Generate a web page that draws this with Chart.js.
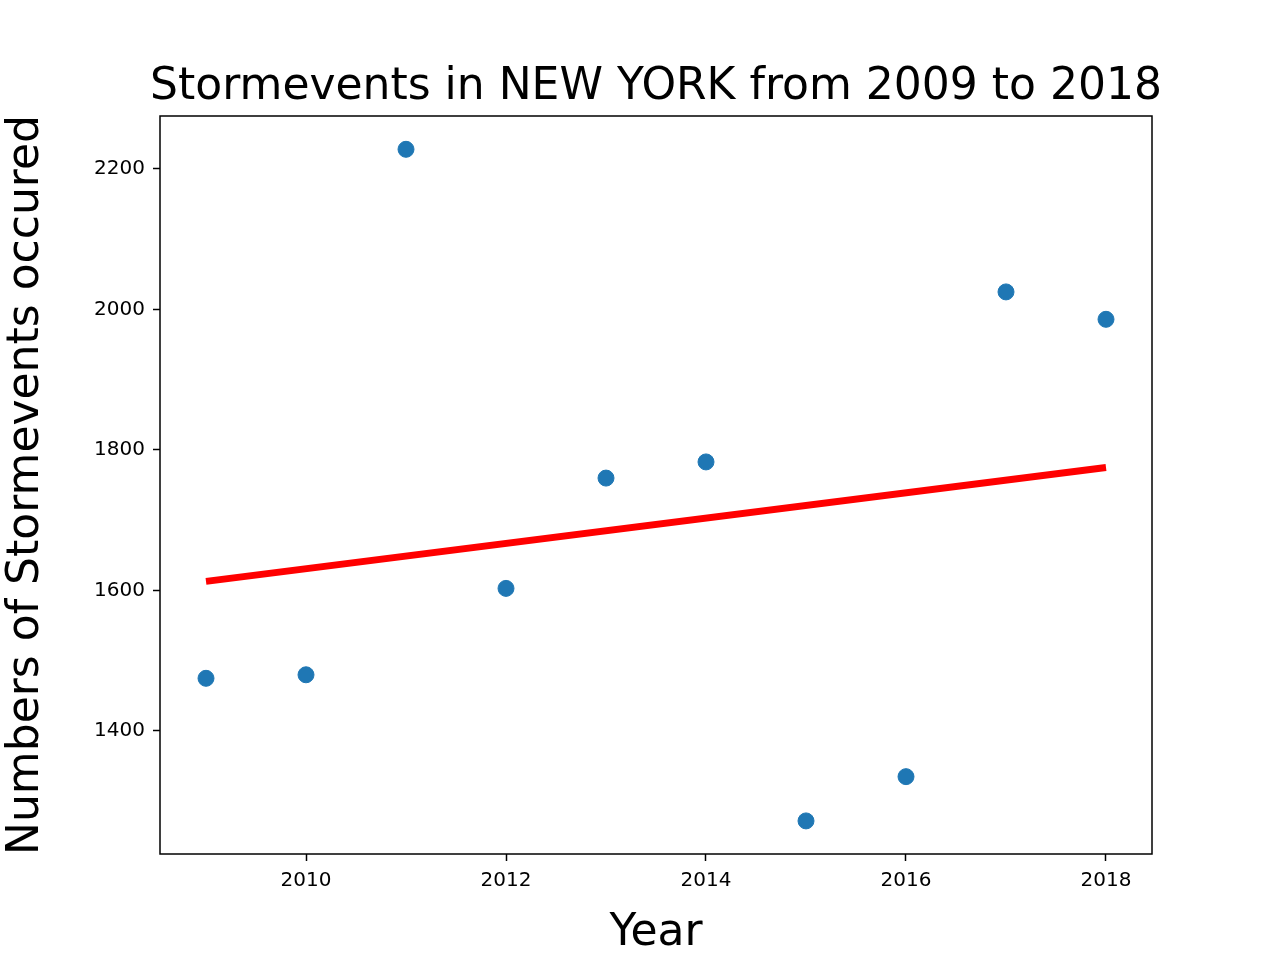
<!DOCTYPE html>
<html>
<head>
<meta charset="utf-8">
<script src="https://cdn.jsdelivr.net/npm/chart.js@4/dist/chart.umd.min.js"></script>
<style>
  body { margin: 0; background: #fff; }
  #wrap { width: 1280px; height: 960px; }
</style>
</head>
<body>
<div id="wrap"><canvas id="stormChart"></canvas></div>
<script>
const years = [2009, 2010, 2011, 2012, 2013, 2014, 2015, 2016, 2017, 2018];
const events = [1475, 1480, 2228, 1603, 1760, 1783, 1272, 1335, 2025, 1986];
const trendYears = [2009, 2018];
const trendValues = [1613, 1775];
const xTicks = [2010, 2012, 2014, 2016, 2018];
const yTicks = [1400, 1600, 1800, 2000, 2200];
const titleText = 'Stormevents in NEW YORK from 2009 to 2018';

const frame = {
    id: 'frame',
    afterDraw(chart) {
        const { ctx, chartArea: a } = chart;
        ctx.save();
        ctx.strokeStyle = '#000';
        ctx.lineWidth = 1.5;
        ctx.strokeRect(a.left, a.top, a.right - a.left, a.bottom - a.top);
        ctx.fillStyle = '#000';
        ctx.font = '44px "DejaVu Sans"';
        ctx.textAlign = 'center';
        ctx.textBaseline = 'alphabetic';
        ctx.fillText(titleText, 656, 99);
        ctx.restore();
    }
};

const tickFont = { family: 'DejaVu Sans', size: 20 };

new Chart(document.getElementById('stormChart'), {
    data: {
        datasets: [
            {
                type: 'scatter',
                data: years.map((y, i) => ({ x: y, y: events[i] })),
                backgroundColor: '#1f77b4',
                borderColor: '#1f77b4',
                pointRadius: 8,
                order: 2
            },
            {
                type: 'line',
                data: trendYears.map((y, i) => ({ x: y, y: trendValues[i] })),
                borderColor: 'red',
                borderWidth: 7,
                pointRadius: 0,
                order: 1
            }
        ]
    },
    options: {
        responsive: true,
        maintainAspectRatio: false,
        animation: false,
        layout: { padding: { top: 116, right: 128, left: 0, bottom: 0 } },
        plugins: { legend: { display: false }, tooltip: { enabled: false } },
        scales: {
            x: {
                type: 'linear',
                min: 2008.54,
                max: 2018.46,
                afterBuildTicks: s => { s.ticks = xTicks.map(v => ({ value: v })); },
                afterFit: s => { s.height = 106; },
                grid: { display: true, drawOnChartArea: false, drawTicks: true, tickLength: 7, tickColor: '#000', tickWidth: 1.5 },
                border: { display: false },
                ticks: { color: '#000', font: tickFont, padding: 8, callback: v => String(v) },
                title: { display: true, text: 'Year', color: '#000', font: { family: 'DejaVu Sans', size: 44 }, padding: { top: 0, bottom: 0 } }
            },
            y: {
                min: 1224.9,
                max: 2275.4,
                afterBuildTicks: s => { s.ticks = yTicks.map(v => ({ value: v })); },
                afterFit: s => { s.width = 160; },
                grid: { display: true, drawOnChartArea: false, drawTicks: true, tickLength: 7, tickColor: '#000', tickWidth: 1.5 },
                border: { display: false },
                ticks: { color: '#000', font: tickFont, padding: 8, crossAlign: 'near', callback: v => String(v) },
                title: { display: true, text: 'Numbers of Stormevents occured', color: '#000', font: { family: 'DejaVu Sans', size: 44 }, padding: { top: 0, bottom: 0 } }
            }
        }
    },
    plugins: [frame]
});
</script>
</body>
</html>
